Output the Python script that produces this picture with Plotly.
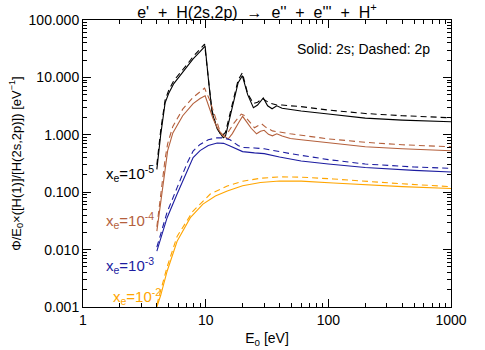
import plotly.graph_objects as go
import numpy as np

# ---- data ----
E_k_s = [4.0, 4.3, 4.67, 5.0, 5.5, 6.2, 7.0, 7.9, 9.0, 9.9, 10.6, 11.3, 12.4, 13.9, 14.5, 16.4, 18.4, 19.9, 22.0, 24.5, 26.5, 29.5, 32.0, 34.8, 38.0, 42.0, 49.0, 60.0, 100.0, 200.0, 400.0, 1000.0]
V_k_s = [0.25, 1.0, 3.6, 5.3, 7.8, 10.7, 15.0, 21.0, 28.0, 35.0, 8.0, 2.4, 1.27, 0.89, 0.95, 2.84, 8.1, 10.7, 5.0, 2.96, 3.3, 4.4, 3.2, 2.84, 3.2, 2.9, 2.75, 2.6, 2.3, 1.95, 1.8, 1.69]
E_k_d = [4.0, 4.3, 4.67, 5.0, 5.5, 6.2, 7.0, 7.9, 9.0, 9.8, 10.5, 11.2, 12.2, 13.5, 14.5, 16.4, 18.4, 19.9, 22.0, 24.5, 26.5, 29.0, 33.0, 38.0, 42.0, 49.0, 60.0, 100.0, 200.0, 400.0, 1000.0]
V_k_d = [0.3, 1.2, 4.0, 6.0, 8.8, 11.8, 16.5, 23.0, 31.0, 38.0, 10.0, 2.8, 1.4, 0.95, 1.1, 3.2, 9.0, 12.0, 5.2, 3.5, 3.7, 4.3, 3.6, 3.3, 3.3, 3.2, 3.1, 2.7, 2.35, 2.15, 1.98]

E_b_s = [4.0, 4.3, 4.67, 4.9, 5.4, 6.5, 7.9, 9.0, 9.9, 10.8, 11.5, 12.5, 13.6, 15.3, 16.5, 18.5, 20.0, 21.5, 23.5, 26.0, 28.0, 30.0, 32.5, 35.0, 38.0, 42.0, 49.0, 60.0, 100.0, 200.0, 400.0, 1000.0]
V_b_s = [0.021, 0.07, 0.29, 0.53, 1.08, 2.15, 3.5, 4.3, 4.8, 2.8, 1.9, 1.3, 1.0, 0.85, 1.05, 1.6, 2.1, 1.7, 1.3, 1.04, 1.15, 1.2, 1.02, 0.96, 1.04, 0.95, 0.86, 0.82, 0.72, 0.62, 0.57, 0.526]
E_b_d = [4.0, 4.3, 4.67, 4.9, 5.4, 6.5, 7.9, 9.0, 9.8, 10.8, 11.8, 13.0, 13.9, 15.0, 17.0, 19.5, 20.5, 22.5, 25.0, 28.5, 31.0, 35.0, 42.0, 49.0, 100.0, 200.0, 400.0, 1000.0]
V_b_d = [0.025, 0.09, 0.38, 0.7, 1.4, 2.8, 4.5, 5.6, 6.5, 4.0, 2.2, 1.2, 0.96, 1.05, 1.6, 2.3, 2.2, 1.75, 1.33, 1.56, 1.35, 1.17, 1.1, 1.04, 0.85, 0.74, 0.67, 0.62]

E_n_s = [4.0, 4.3, 4.85, 5.85, 7.1, 7.9, 9.0, 10.5, 12.4, 14.0, 15.8, 18.4, 20.0, 25.0, 30.0, 40.0, 60.0, 100.0, 200.0, 500.0, 1000.0]
V_n_s = [0.0094, 0.016, 0.036, 0.093, 0.25, 0.4, 0.53, 0.65, 0.72, 0.71, 0.64, 0.55, 0.51, 0.485, 0.47, 0.41, 0.35, 0.31, 0.27, 0.24, 0.225]
E_n_d = [4.0, 4.3, 4.85, 5.85, 7.1, 7.9, 9.0, 10.5, 12.4, 14.0, 15.8, 18.4, 20.0, 25.0, 30.0, 49.0, 60.0, 100.0, 200.0, 500.0, 1000.0]
V_n_d = [0.011, 0.019, 0.045, 0.12, 0.33, 0.52, 0.68, 0.82, 0.89, 0.88, 0.82, 0.65, 0.6, 0.59, 0.57, 0.47, 0.44, 0.37, 0.31, 0.275, 0.26]

E_o_s = [4.0, 4.3, 4.85, 5.85, 7.5, 9.5, 12.0, 15.0, 20.0, 28.0, 40.0, 60.0, 110.0, 200.0, 400.0, 1000.0]
V_o_s = [0.001, 0.0016, 0.0042, 0.014, 0.036, 0.062, 0.086, 0.105, 0.13, 0.148, 0.157, 0.156, 0.145, 0.135, 0.125, 0.116]
E_o_d = [4.0, 4.3, 4.85, 5.85, 7.9, 10.9, 15.0, 20.0, 28.0, 40.0, 60.0, 110.0, 200.0, 400.0, 1000.0]
V_o_d = [0.0011, 0.0019, 0.005, 0.017, 0.047, 0.093, 0.128, 0.155, 0.175, 0.185, 0.183, 0.17, 0.155, 0.14, 0.125]

labels = ["x<sub>e</sub>=10<sup>-5</sup>", "x<sub>e</sub>=10<sup>-4</sup>",
          "x<sub>e</sub>=10<sup>-3</sup>", "x<sub>e</sub>=10<sup>-2</sup>"]
label_E = [3.95, 3.95, 3.95, 4.5]
label_V = [0.208, 0.0316, 0.0052, 0.00155]

y_ticks = [0.001, 0.01, 0.1, 1, 10, 100]
y_text = ["0.001", "0.010", "0.100", "1.000", "10.000", "100.000"]
x_ticks = [1, 10, 100, 1000]
x_text = ["1", "10", "100", "1000"]

colors = ["#000000", "#B4603C", "#1C1CA0", "#FFA500"]
series = [(E_k_s, V_k_s, E_k_d, V_k_d), (E_b_s, V_b_s, E_b_d, V_b_d),
          (E_n_s, V_n_s, E_n_d, V_n_d), (E_o_s, V_o_s, E_o_d, V_o_d)]

FONT = "Liberation Sans, Arial, sans-serif"
fig = go.Figure()
for (es, vs, ed, vd), c in zip(series, colors):
    fig.add_trace(go.Scatter(x=es, y=vs, mode="lines", line=dict(color=c, width=1.1), showlegend=False))
    fig.add_trace(go.Scatter(x=ed, y=vd, mode="lines", line=dict(color=c, width=1.1, dash="6px,4px"), showlegend=False))

for t, ex, vy, c in zip(labels, label_E, label_V, colors):
    fig.add_annotation(x=np.log10(ex), y=np.log10(vy), text=t, showarrow=False,
                       xanchor="right", yanchor="middle", font=dict(color=c, size=15, family=FONT))

fig.add_annotation(x=0.948, y=0.9, xref="paper", yref="paper", text="Solid: 2s; Dashed: 2p",
                   showarrow=False, xanchor="right", yanchor="middle",
                   font=dict(size=14, color="#000", family=FONT))

axis_common = dict(type="log", showline=True, linecolor="#000", linewidth=1, mirror="allticks",
                   ticks="inside", ticklen=8, tickcolor="#000", tickwidth=1, showgrid=False,
                   zeroline=False, automargin=False,
                   tickfont=dict(size=14, family=FONT, color="#000"),
                   minor=dict(ticks="inside", ticklen=4, tickcolor="#000", dtick="D1", showgrid=False))

fig.update_xaxes(range=[0, 3], tickvals=x_ticks, ticktext=x_text,
                 title=dict(text="E<sub>0</sub> [eV]", font=dict(size=14, family=FONT, color="#000"), standoff=6),
                 **axis_common)
fig.update_yaxes(range=[-3, 2], tickvals=y_ticks, ticktext=y_text,
                 title=dict(text="Φ/E<sub>0</sub>×([H(1)]/[H(2s,2p)]) [eV<sup>−1</sup>]",
                            font=dict(size=13, family=FONT, color="#000"), standoff=4),
                 **axis_common)

fig.update_layout(width=485, height=350, margin=dict(l=83, r=34, t=20, b=43, autoexpand=False),
                  paper_bgcolor="white", plot_bgcolor="white",
                  title=dict(text="e'  +  H(2s,2p)  →  e''  +  e'''  +  H<sup>+</sup>",
                             x=0.53, xanchor="center", y=0.965, yanchor="middle",
                             font=dict(size=16, family=FONT, color="#000")))

fig.write_html("out.html", config={"displayModeBar": False},
               post_script="document.body.style.margin='0';")
